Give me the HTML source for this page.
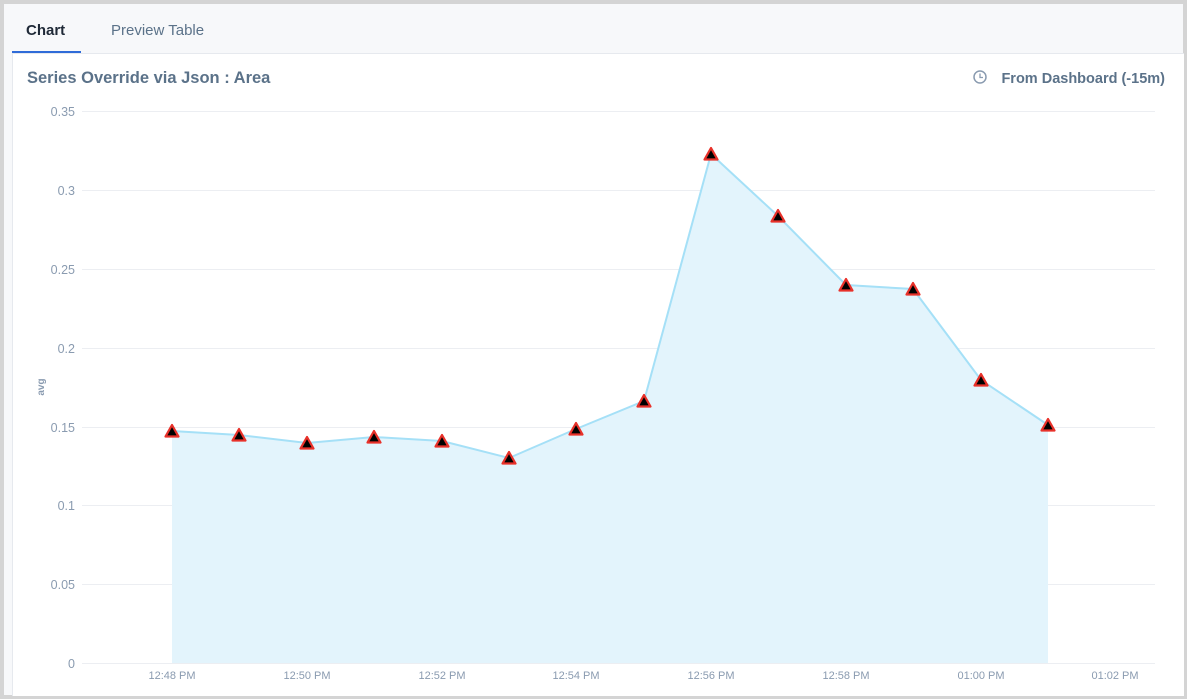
<!DOCTYPE html>
<html><head><style>
html,body{margin:0;padding:0;}
body{width:1187px;height:699px;background:#d4d4d4;position:relative;overflow:hidden;font-family:"Liberation Sans",sans-serif;}
.frame{position:absolute;left:4px;top:4px;width:1179px;height:691px;background:#f7f8fa;}
.panel{position:absolute;left:8px;top:49px;width:1171px;height:642px;background:#fff;border-left:1px solid #e6e9ee;border-top:1px solid #e6e9ee;}
.tab{position:absolute;top:22px;font-size:15px;}
</style></head><body>
<div class="frame">
<div class="tab" style="left:22px;top:18px;color:#1f2937;font-weight:bold;">Chart</div>
<div class="tab" style="left:107px;top:18px;color:#5b7289;">Preview Table</div>
<div style="position:absolute;left:8px;top:47px;width:69px;height:3px;background:#2f6bd8;"></div>
<div class="panel"></div>
</div>
<svg width="1187" height="699" style="position:absolute;left:0;top:0">
<text x="27" y="83" font-size="16.5" font-weight="bold" fill="#5b7289" font-family="Liberation Sans">Series Override via Json : Area</text>
<circle cx="980" cy="77" r="6" fill="none" stroke="#8a9bb0" stroke-width="1.5"/>
<path d="M980 73.5V77.5H983" fill="none" stroke="#8a9bb0" stroke-width="1.3"/>
<text x="1165" y="83" font-size="14.5" font-weight="bold" fill="#5b7289" text-anchor="end" font-family="Liberation Sans">From Dashboard (-15m)</text>
<g stroke="#eceef2" stroke-width="1">
<line x1="82" x2="1155" y1="111.5" y2="111.5"/><line x1="82" x2="1155" y1="190.5" y2="190.5"/>
<line x1="82" x2="1155" y1="269.5" y2="269.5"/><line x1="82" x2="1155" y1="348.5" y2="348.5"/>
<line x1="82" x2="1155" y1="427.5" y2="427.5"/><line x1="82" x2="1155" y1="505.5" y2="505.5"/>
<line x1="82" x2="1155" y1="584.5" y2="584.5"/><line x1="82" x2="1155" y1="663.5" y2="663.5"/>
</g>
<g font-size="12.5" fill="#8a9bb0" text-anchor="end" font-family="Liberation Sans">
<text x="75" y="116">0.35</text><text x="75" y="195">0.3</text><text x="75" y="274">0.25</text>
<text x="75" y="353">0.2</text><text x="75" y="432">0.15</text><text x="75" y="510">0.1</text>
<text x="75" y="589">0.05</text><text x="75" y="668">0</text>
</g>
<text x="44" y="387" font-size="10" font-weight="bold" fill="#8a9bb0" transform="rotate(-90 44 387)" text-anchor="middle" font-family="Liberation Sans">avg</text>
<g font-size="11" fill="#8a9bb0" text-anchor="middle" font-family="Liberation Sans">
<text x="172" y="679">12:48 PM</text><text x="307" y="679">12:50 PM</text><text x="442" y="679">12:52 PM</text>
<text x="576" y="679">12:54 PM</text><text x="711" y="679">12:56 PM</text><text x="846" y="679">12:58 PM</text>
<text x="981" y="679">01:00 PM</text><text x="1115" y="679">01:02 PM</text>
</g>
<polygon fill="#e3f4fc" points="172,663 172,431 239,435 307,443 374,437 442,441 509,458 576,429 644,401 711,154 778,216 846,285 913,289 981,380 1048,425 1048,663"/>
<polyline fill="none" stroke="#a5e0f7" stroke-width="2" points="172,431 239,435 307,443 374,437 442,441 509,458 576,429 644,401 711,154 778,216 846,285 913,289 981,380 1048,425"/>
<g fill="#000" stroke="#e8312a" stroke-width="2.2" stroke-linejoin="round">
<path d="M172 425l6.5 11.5h-13z"/><path d="M239 429l6.5 11.5h-13z"/><path d="M307 437l6.5 11.5h-13z"/>
<path d="M374 431l6.5 11.5h-13z"/><path d="M442 435l6.5 11.5h-13z"/><path d="M509 452l6.5 11.5h-13z"/>
<path d="M576 423l6.5 11.5h-13z"/><path d="M644 395l6.5 11.5h-13z"/><path d="M711 148l6.5 11.5h-13z"/>
<path d="M778 210l6.5 11.5h-13z"/><path d="M846 279l6.5 11.5h-13z"/><path d="M913 283l6.5 11.5h-13z"/>
<path d="M981 374l6.5 11.5h-13z"/><path d="M1048 419l6.5 11.5h-13z"/>
</g>
</svg>
</body></html>
